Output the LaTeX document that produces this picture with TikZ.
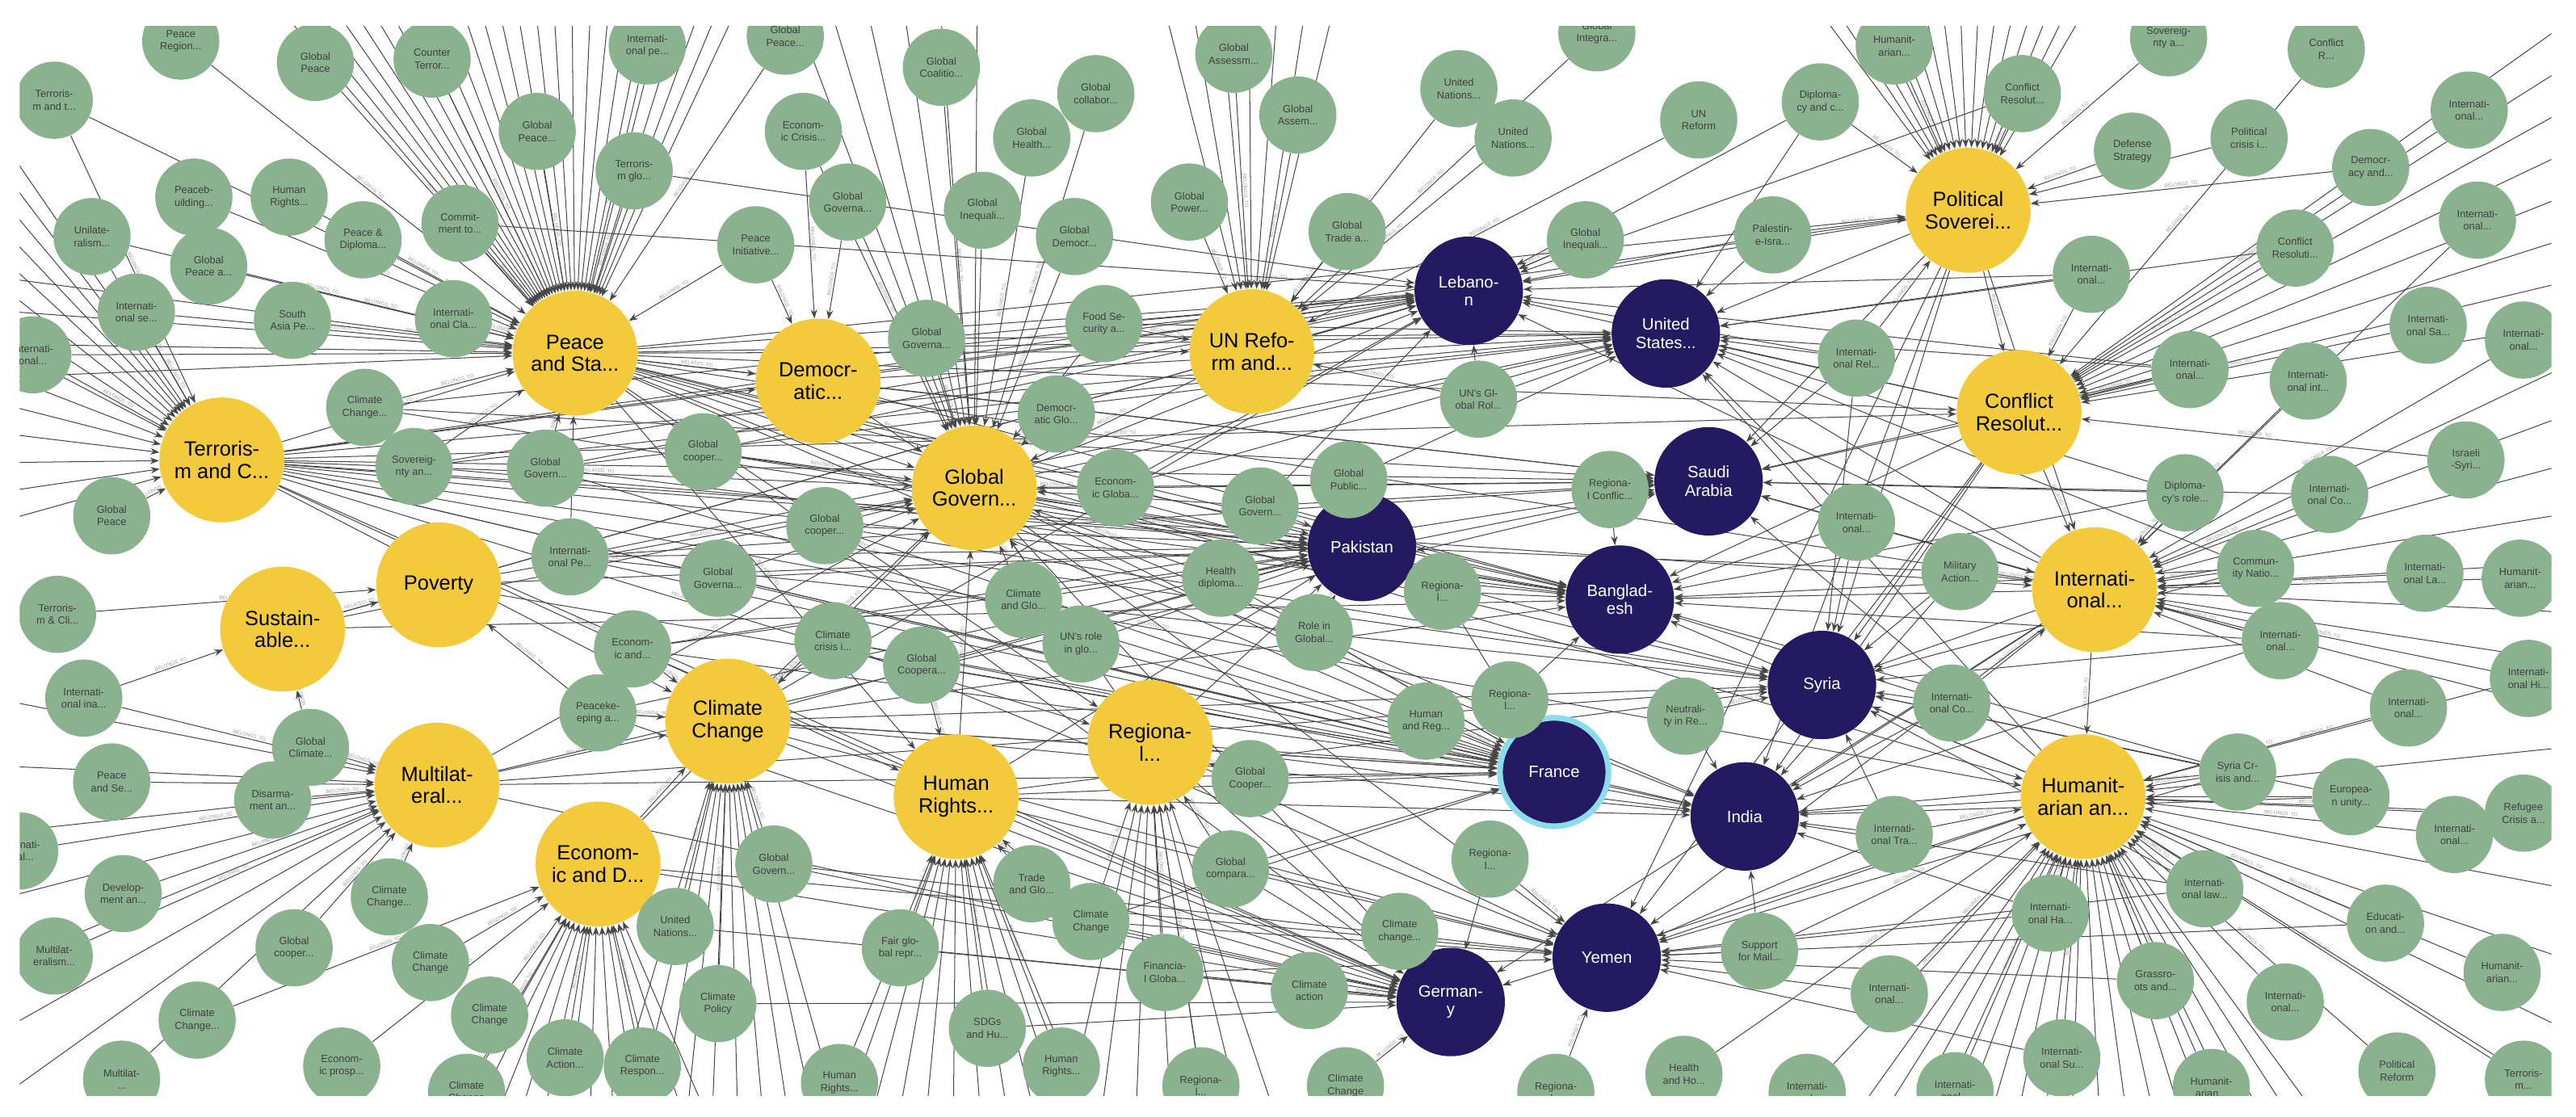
\documentclass[tikz,border=0pt]{standalone}
\usepackage{fontspec}
\setmainfont{Liberation Sans}
\usetikzlibrary{arrows.meta}
\definecolor{topicgreen}{HTML}{8AB28E}
\definecolor{themeyellow}{HTML}{F2CA3C}
\definecolor{countryblue}{HTML}{231A62}
\definecolor{ringcyan}{HTML}{8ADCEA}
\pgfdeclarelayer{background}
\pgfsetlayers{background,main}

\begin{document}
\begin{tikzpicture}[
    x=1pt, y=-1pt,
    topic/.style={circle, fill=topicgreen, minimum size=47pt, inner sep=0pt, align=center, font=\fontsize{6.3}{7.6}\selectfont, text=black!75},
    theme/.style={circle, fill=themeyellow, minimum size=76pt, inner sep=0pt, align=center, font=\fontsize{12.5}{13.5}\selectfont},
    country/.style={circle, fill=countryblue, minimum size=66pt, inner sep=0pt, align=center, text=white, font=\fontsize{10}{11}\selectfont},
    rel/.style={draw=black!72, line width=0.5pt, -{Stealth[length=5.5pt,width=4pt]}},
    lbl/.style={sloped, midway, above=-0.3pt, font=\fontsize{3}{3}\selectfont, text=black!40, inner sep=0.5pt}
  ]
    \useasboundingbox (0,0) rectangle (1568,680);
    \clip (12,16) rectangle (1553,667);

    % themes
    \node[theme] (peace) at (350,215) {Peace\\and Sta...};
    \node[theme] (terror) at (135,280) {Terroris-\\m and C...};
    \node[theme] (demo) at (498,232) {Democr-\\atic...};
    \node[theme] (govern) at (593,297) {Global\\Govern...};
    \node[theme] (unref) at (762,214) {UN Refo-\\rm and...};
    \node[theme] (polsov) at (1198,128) {Political\\Soverei...};
    \node[theme] (conflict) at (1229,251) {Conflict\\Resolut...};
    \node[theme] (intl) at (1275,359) {Internati-\\onal...};
    \node[theme] (human) at (1268,485) {Humanit-\\arian an...};
    \node[theme] (sustain) at (172,383) {Sustain-\\able...};
    \node[theme] (poverty) at (267,356) {Poverty};
    \node[theme] (multi) at (266,478) {Multilat-\\eral...};
    \node[theme] (climate) at (443,439) {Climate\\Change};
    \node[theme] (econ) at (364,526) {Econom-\\ic and D...};
    \node[theme] (rights) at (582,485) {Human\\Rights...};
    \node[theme] (region) at (700,452) {Regiona-\\l...};

    % countries
    \node[country] (lebanon) at (894,177) {Lebano-\\n};
    \node[country] (usa) at (1014,203) {United\\States...};
    \node[country] (saudi) at (1040,293) {Saudi\\Arabia};
    \node[country] (pakistan) at (829,333) {Pakistan};
    \node[country] (bangla) at (986,365) {Banglad-\\esh};
    \node[country] (syria) at (1109,417) {Syria};
    \node[country, draw=ringcyan, line width=3.5pt] (france) at (946,470) {France};
    \node[country] (india) at (1062,497) {India};
    \node[country] (yemen) at (978,583) {Yemen};
    \node[country] (germany) at (883,610) {German-\\y};

    % topics
    \node[topic] (g1) at (110,25) {Peace\\Region...};
    \node[topic] (g2) at (192,38) {Global\\Peace};
    \node[topic] (g3) at (263,36) {Counter\\Terror...};
    \node[topic] (g4) at (394,28) {Internati-\\onal pe...};
    \node[topic] (g5) at (33,61) {Terroris-\\m and t...};
    \node[topic] (g6) at (327,80) {Global\\Peace...};
    \node[topic] (g7) at (386,104) {Terroris-\\m glo...};
    \node[topic] (g8) at (118,120) {Peaceb-\\uilding...};
    \node[topic] (g9) at (176,120) {Human\\Rights...};
    \node[topic] (g10) at (56,144) {Unilate-\\ralism...};
    \node[topic] (g11) at (221,146) {Peace \&\\Diploma...};
    \node[topic] (g12) at (280,136) {Commit-\\ment to...};
    \node[topic] (g13) at (127,162) {Global\\Peace a...};
    \node[topic] (g14) at (83,190) {Internati-\\onal se...};
    \node[topic] (g15) at (178,195) {South\\Asia Pe...};
    \node[topic] (g16) at (276,194) {Internati-\\onal Cla...};
    \node[topic] (g17) at (20,216) {Internati-\\onal...};
    \node[topic] (g18) at (478,22) {Global\\Peace...};
    \node[topic] (g19) at (489,80) {Econom-\\ic Crisis...};
    \node[topic] (g20) at (573,41) {Global\\Coalitio...};
    \node[topic] (g21) at (667,57) {Global\\collabor...};
    \node[topic] (g22) at (628,84) {Global\\Health...};
    \node[topic] (g23) at (516,123) {Global\\Governa...};
    \node[topic] (g24) at (598,128) {Global\\Inequali...};
    \node[topic] (g25) at (654,144) {Global\\Democr...};
    \node[topic] (g26) at (724,123) {Global\\Power...};
    \node[topic] (g27) at (751,33) {Global\\Assessm...};
    \node[topic] (g28) at (790,70) {Global\\Assem...};
    \node[topic] (g29) at (460,149) {Peace\\Initiative...};
    \node[topic] (g30) at (564,206) {Global\\Governa...};
    \node[topic] (g31) at (672,197) {Food Se-\\curity a...};
    \node[topic] (g32) at (888,54) {United\\Nations...};
    \node[topic] (g33) at (921,84) {United\\Nations...};
    \node[topic] (g34) at (972,20) {Global\\Integra...};
    \node[topic] (g35) at (1034,73) {UN\\Reform};
    \node[topic] (g36) at (1108,62) {Diploma-\\cy and c...};
    \node[topic] (g37) at (1153,28) {Humanit-\\arian...};
    \node[topic] (g38) at (820,141) {Global\\Trade a...};
    \node[topic] (g39) at (965,146) {Global\\Inequali...};
    \node[topic] (g40) at (1079,143) {Palestin-\\e-Isra...};
    \node[topic] (g41) at (1130,218) {Internati-\\onal Rel...};
    \node[topic] (g42) at (900,243) {UN's Gl-\\obal Rol...};
    \node[topic] (g43) at (1320,23) {Sovereig-\\nty a...};
    \node[topic] (g44) at (1231,57) {Conflict\\Resolut...};
    \node[topic] (g45) at (1416,30) {Conflict\\R...};
    \node[topic] (g46) at (1298,92) {Defense\\Strategy};
    \node[topic] (g47) at (1369,84) {Political\\crisis i...};
    \node[topic] (g48) at (1443,102) {Democr-\\acy and...};
    \node[topic] (g49) at (1503,67) {Internati-\\onal...};
    \node[topic] (g50) at (1273,167) {Internati-\\onal...};
    \node[topic] (g51) at (1397,151) {Conflict\\Resoluti...};
    \node[topic] (g52) at (1508,134) {Internati-\\onal...};
    \node[topic] (g53) at (1478,198) {Internati-\\onal Sa...};
    \node[topic] (g54) at (1536,207) {Internati-\\onal...};
    \node[topic] (g55) at (1333,225) {Internati-\\onal...};
    \node[topic] (g56) at (1405,232) {Internati-\\onal int...};
    \node[topic] (g57) at (1501,280) {Israeli\\-Syri...};
    \node[topic] (g58) at (1330,300) {Diploma-\\cy's role...};
    \node[topic] (g59) at (1418,301) {Internati-\\onal Co...};
    \node[topic] (g60) at (1193,348) {Military\\Action...};
    \node[topic] (g61) at (1373,346) {Commun-\\ity Natio...};
    \node[topic] (g62) at (1476,349) {Internati-\\onal La...};
    \node[topic] (g63) at (1534,352) {Humanit-\\arian...};
    \node[topic] (g64) at (1388,390) {Internati-\\onal...};
    \node[topic] (g65) at (1539,413) {Internati-\\onal Hi...};
    \node[topic] (g66) at (1466,431) {Internati-\\onal...};
    \node[topic] (g67) at (1188,428) {Internati-\\onal Co...};
    \node[topic] (g68) at (1130,318) {Internati-\\onal...};
    \node[topic] (g69) at (1362,470) {Syria Cr-\\isis and...};
    \node[topic] (g70) at (1431,485) {Europea-\\n unity...};
    \node[topic] (g71) at (1494,508) {Internati-\\onal...};
    \node[topic] (g72) at (1536,495) {Refugee\\Crisis a...};
    \node[topic] (g73) at (1342,541) {Internati-\\onal law...};
    \node[topic] (g74) at (1248,556) {Internati-\\onal Ha...};
    \node[topic] (g75) at (1452,562) {Educati-\\on and...};
    \node[topic] (g76) at (1523,592) {Humanit-\\arian...};
    \node[topic] (g77) at (1312,597) {Grassro-\\ots and...};
    \node[topic] (g78) at (1391,610) {Internati-\\onal...};
    \node[topic] (g79) at (1255,644) {Internati-\\onal Su...};
    \node[topic] (g80) at (1459,652) {Political\\Reform};
    \node[topic] (g81) at (1536,657) {Terroris-\\m...};
    \node[topic] (g82) at (1346,662) {Humanit-\\arian...};
    \node[topic] (g83) at (1190,664) {Internati-\\onal...};
    \node[topic] (g84) at (1153,508) {Internati-\\onal Tra...};
    \node[topic] (g85) at (1071,579) {Support\\for Mail...};
    \node[topic] (g86) at (1150,605) {Internati-\\onal...};
    \node[topic] (g87) at (1025,654) {Health\\and Ho...};
    \node[topic] (g88) at (1100,665) {Internati-\\onal...};
    \node[topic] (g89) at (821,292) {Global\\Public...};
    \node[topic] (g90) at (980,298) {Regiona-\\l Conflic...};
    \node[topic] (g92) at (878,360) {Regiona-\\l...};
    \node[topic] (g93) at (800,385) {Role in\\Global...};
    \node[topic] (g94) at (1026,436) {Neutrali-\\ty in Re...};
    \node[topic] (g95) at (919,426) {Regiona-\\l...};
    \node[topic] (g96) at (868,439) {Human\\and Reg...};
    \node[topic] (g97) at (907,523) {Regiona-\\l...};
    \node[topic] (g98) at (852,567) {Climate\\change...};
    \node[topic] (g99) at (797,603) {Climate\\action};
    \node[topic] (g100) at (819,661) {Climate\\Change};
    \node[topic] (g101) at (947,665) {Regiona-\\l...};
    \node[topic] (g102) at (643,252) {Democr-\\atic Glo...};
    \node[topic] (g103) at (428,275) {Global\\cooper...};
    \node[topic] (g104) at (679,297) {Econom-\\ic Globa...};
    \node[topic] (g105) at (767,308) {Global\\Govern...};
    \node[topic] (g106) at (502,320) {Global\\cooper...};
    \node[topic] (g107) at (437,352) {Global\\Governa...};
    \node[topic] (g108) at (743,352) {Health\\diploma...};
    \node[topic] (g109) at (623,365) {Climate\\and Glo...};
    \node[topic] (g110) at (658,392) {UN's role\\in glo...};
    \node[topic] (g111) at (507,390) {Climate\\crisis i...};
    \node[topic] (g112) at (561,405) {Global\\Coopera...};
    \node[topic] (g113) at (385,395) {Econom-\\ic and...};
    \node[topic] (g114) at (364,434) {Peaceke-\\eping a...};
    \node[topic] (g115) at (222,248) {Climate\\Change...};
    \node[topic] (g116) at (252,284) {Sovereig-\\nty an...};
    \node[topic] (g117) at (332,285) {Global\\Govern...};
    \node[topic] (g118) at (68,314) {Global\\Peace};
    \node[topic] (g119) at (347,339) {Internati-\\onal Pe...};
    \node[topic] (g120) at (35,374) {Terroris-\\m \& Cli...};
    \node[topic] (g121) at (51,425) {Internati-\\onal ina...};
    \node[topic] (g122) at (189,455) {Global\\Climate...};
    \node[topic] (g123) at (68,476) {Peace\\and Se...};
    \node[topic] (g124) at (166,487) {Disarma-\\ment an...};
    \node[topic] (g125) at (12,518) {Internati-\\onal...};
    \node[topic] (g126) at (75,544) {Develop-\\ment an...};
    \node[topic] (g127) at (237,546) {Climate\\Change...};
    \node[topic] (g128) at (33,582) {Multilat-\\eralism...};
    \node[topic] (g129) at (179,577) {Global\\cooper...};
    \node[topic] (g130) at (262,586) {Climate\\Change};
    \node[topic] (g131) at (120,621) {Climate\\Change...};
    \node[topic] (g132) at (298,618) {Climate\\Change};
    \node[topic] (g133) at (208,649) {Econom-\\ic prosp...};
    \node[topic] (g134) at (344,644) {Climate\\Action...};
    \node[topic] (g135) at (74,657) {Multilat-\\...};
    \node[topic] (g136) at (284,665) {Climate\\Change};
    \node[topic] (g137) at (391,649) {Climate\\Respon...};
    \node[topic] (g138) at (411,564) {United\\Nations...};
    \node[topic] (g139) at (471,526) {Global\\Govern...};
    \node[topic] (g140) at (437,611) {Climate\\Policy};
    \node[topic] (g141) at (548,577) {Fair glo-\\bal repr...};
    \node[topic] (g142) at (628,538) {Trade\\and Glo...};
    \node[topic] (g143) at (664,561) {Climate\\Change};
    \node[topic] (g144) at (601,626) {SDGs\\and Hu...};
    \node[topic] (g145) at (646,649) {Human\\Rights...};
    \node[topic] (g146) at (511,659) {Human\\Rights...};
    \node[topic] (g147) at (761,474) {Global\\Cooper...};
    \node[topic] (g148) at (749,529) {Global\\compara...};
    \node[topic] (g149) at (709,592) {Financia-\\l Globa...};
    \node[topic] (g150) at (731,661) {Regiona-\\l...};

    \begin{pgfonlayer}{background}
    \begin{scope}
    \clip (12,16) rectangle (1553,667);
    % topics to themes
    \foreach \s/\t in {g1/peace, g2/peace, g3/peace, g4/peace, g5/peace, g5/terror, g6/peace, g7/peace, g8/peace, g9/peace,
        g10/peace, g10/terror, g11/peace, g12/peace, g13/peace, g14/peace, g14/terror, g15/peace, g16/peace, g17/terror, g17/peace,
        g18/peace, g19/govern, g19/demo, g20/govern, g21/govern, g22/govern, g23/demo, g23/govern, g24/govern, g25/govern,
        g26/unref, g27/unref, g28/unref, g29/peace, g29/demo, g30/govern, g31/govern, g31/unref, g32/unref, g33/unref, g34/unref,
        g35/unref, g36/polsov, g37/polsov, g38/unref, g39/lebanon, g40/polsov, g41/polsov, g42/unref,
        g43/polsov, g44/polsov, g45/conflict, g46/polsov, g47/polsov, g48/polsov, g49/conflict, g50/conflict, g51/conflict,
        g52/intl, g53/conflict, g54/intl, g55/conflict, g56/intl, g57/conflict, g58/intl, g59/intl, g60/intl, g61/intl,
        g62/intl, g63/intl, g64/intl, g65/intl, g65/human, g66/intl, g66/human, g67/intl, g68/intl,
        g69/human, g70/human, g71/human, g72/human, g73/human, g74/human, g75/human, g76/human, g77/human, g78/human,
        g79/human, g80/human, g81/human, g82/human, g83/human, g84/human, g85/human, g86/human, g87/human, g88/human,
        g89/pakistan, g92/pakistan, g93/pakistan, g90/saudi, g94/syria, g95/france, g96/france, g97/yemen, g98/germany,
        g99/germany, g100/germany, g101/yemen,
        g102/govern, g103/govern, g104/govern, g105/govern, g106/govern, g107/govern, g108/govern, g109/govern, g110/govern,
        g111/climate, g112/rights, g113/climate, g114/climate, g114/poverty, g115/peace, g116/peace, g117/peace, g118/terror,
        g119/peace, g120/poverty, g121/sustain, g121/multi, g122/sustain, g122/multi, g123/multi, g124/multi, g125/multi,
        g126/multi, g127/multi, g128/multi, g129/multi, g130/econ, g131/econ, g132/econ, g133/econ, g134/econ, g135/multi,
        g136/econ, g137/econ, g138/climate, g138/econ, g139/climate, g140/climate, g141/rights, g142/rights, g143/rights,
        g143/region, g144/rights, g145/rights, g146/rights, g147/region, g148/region, g149/region, g150/region}
      \draw[rel] (\s) -- node[lbl]{BELONGS\_TO} (\t);
    % themes to themes
    \foreach \s/\t in {terror/govern, peace/govern, demo/govern, climate/govern, poverty/govern, multi/govern, econ/govern,
        rights/govern, region/govern, sustain/govern, unref/govern, terror/peace, sustain/poverty, multi/climate,
        econ/climate, polsov/conflict, conflict/intl, intl/human, polsov/intl,
        terror/intl, terror/human, terror/conflict, terror/polsov, terror/rights, terror/region, terror/climate, terror/demo,
        peace/intl, peace/human, peace/conflict, peace/polsov, peace/rights, peace/region, peace/demo, peace/unref}
      \draw[rel] (\s) -- node[lbl]{RELATED\_TO} (\t);
    % links into countries
    \foreach \s in {peace, terror, demo, govern, climate, unref, polsov, conflict, intl, sustain, poverty, g39, g30, g31, g105, g42, g41, g40, g104,
        g115, g116, g117, g103, g7, g12, g55, g50, g44, g36}
      \draw[rel] (\s) -- (lebanon);
    \foreach \s in {peace, terror, demo, govern, polsov, conflict, intl, human, g40, g41, g36, g68, g30, g31, g42, g104, g89,
        g116, g117, g119, g55, g58, g61, g50, g51}
      \draw[rel] (\s) -- (usa);
    \foreach \s in {peace, terror, govern, demo, polsov, conflict, intl, human, g68, g41, g105, g108, g104, multi,
        g115, g119, g113, g58, g59, g64, g55}
      \draw[rel] (\s) -- (saudi);
    \foreach \s in {peace, terror, govern, climate, rights, region, poverty, g89, g92, g105, g108, g109, g110, g112, g103, g106, g107,
        g116, g119, g113, g114, g60}
      \draw[rel] (\s) -- (pakistan);
    \foreach \s in {peace, terror, govern, demo, climate, conflict, intl, human, g90, g92, g95, g68, g67, g104, g105, sustain,
        g115, g117, g103, g58, g61, g64, g69}
      \draw[rel] (\s) -- (bangla);
    \foreach \s in {govern, polsov, conflict, intl, human, g67, g68, g84, g41, g60, peace, terror, climate, rights, multi,
        g119, g106, g61, g64, g69, g70, g73}
      \draw[rel] (\s) -- (syria);
    \foreach \s in {peace, terror, govern, climate, rights, region, g92, g93, g147, g148, g108, g110, g143, g107, poverty, multi,
        g117, g113, g114, g106, g111, g112}
      \draw[rel] (\s) -- (france);
    \foreach \s in {govern, polsov, conflict, intl, human, g84, g94, g67, g85, g74, peace, terror, climate, rights, region, g60,
        g119, g111, g69, g70, g73, g64}
      \draw[rel] (\s) -- (india);
    \foreach \s in {conflict, intl, human, g84, g85, g86, g74, g79, polsov, region, rights, g148, g149, g143, govern, climate, econ,
        g111, g139, g69, g73, g77, g75}
      \draw[rel] (\s) -- (yemen);
    \foreach \s in {climate, rights, region, g97, g141, g142, g143, g148, g149, g144, govern, multi, econ, peace, terror, human, intl,
        g139, g138, g140, g113, g114}
      \draw[rel] (\s) -- (germany);
    % links from beyond the frame
    \foreach \i in {0,...,25} {
      \coordinate (pa\i) at ({140+13*\i},-30);
      \draw[rel] (pa\i) -- (peace);
    }
    \foreach \i in {0,...,3} {
      \coordinate (pb\i) at (-30,{165+22*\i});
      \draw[rel] (pb\i) -- (peace);
    }
    \foreach \i in {0,...,13} {
      \coordinate (ta\i) at (-30,{40+22*\i});
      \draw[rel] (ta\i) -- (terror);
    }
    \foreach \i in {0,...,15} {
      \coordinate (sa\i) at ({1080+14*\i},-30);
      \draw[rel] (sa\i) -- (polsov);
    }
    \foreach \i in {0,...,7} {
      \coordinate (ca\i) at (1610,{-20+30*\i});
      \draw[rel] (ca\i) -- (conflict);
    }
    \foreach \i in {0,...,7} {
      \coordinate (ia\i) at (1610,{200+35*\i});
      \draw[rel] (ia\i) -- (intl);
    }
    \foreach \i in {0,...,17} {
      \coordinate (ha\i) at ({1100+20*\i},720);
      \draw[rel] (ha\i) -- (human);
    }
    \foreach \i in {0,...,5} {
      \coordinate (hb\i) at (1610,{450+50*\i});
      \draw[rel] (hb\i) -- (human);
    }
    \foreach \i in {0,...,11} {
      \coordinate (ea\i) at ({250+18*\i},720);
      \draw[rel] (ea\i) -- (econ);
    }
    \foreach \i in {0,...,9} {
      \coordinate (la\i) at ({360+18*\i},720);
      \draw[rel] (la\i) -- (climate);
    }
    \foreach \i in {0,...,9} {
      \coordinate (ra\i) at ({500+20*\i},720);
      \draw[rel] (ra\i) -- (rights);
    }
    \foreach \i in {0,...,6} {
      \coordinate (ga\i) at ({640+25*\i},720);
      \draw[rel] (ga\i) -- (region);
    }
    \foreach \i in {0,...,6} {
      \coordinate (ma\i) at (-30,{420+45*\i});
      \draw[rel] (ma\i) -- (multi);
    }
    \foreach \i in {0,...,6} {
      \coordinate (ua\i) at ({700+20*\i},-30);
      \draw[rel] (ua\i) -- (unref);
    }
    \foreach \i in {0,...,5} {
      \coordinate (va\i) at ({470+25*\i},-30);
      \draw[rel] (va\i) -- (govern);
    }
    \end{scope}
    \end{pgfonlayer}
  \end{tikzpicture}
\end{document}
